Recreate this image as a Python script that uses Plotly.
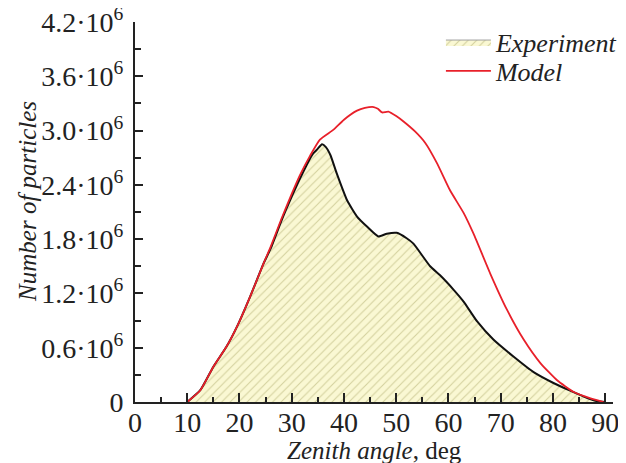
import plotly.graph_objects as go

exp_x = [10, 12.5, 15, 17.5, 19.5, 22, 24.6, 26, 28, 30, 32, 34, 35, 35.8, 36.5, 37.4, 38.6,
         40.6, 42.5, 44.4, 46.6, 48.2, 50.1, 52, 53.3, 56.5, 58.4, 61, 62.9, 65.5, 68.6,
         72.5, 76.3, 80.1, 83.3, 85.9, 88.4, 90]
exp_y = [0, 0.13, 0.39, 0.61, 0.83, 1.16, 1.53, 1.70, 2.0, 2.27, 2.52, 2.74, 2.80, 2.85,
         2.82, 2.73, 2.53, 2.23, 2.05, 1.94, 1.83, 1.86, 1.87, 1.81, 1.75, 1.50, 1.40,
         1.24, 1.11, 0.89, 0.69, 0.50, 0.33, 0.21, 0.125, 0.06, 0.01, 0]
mod_x = [10, 12.5, 15, 17.5, 19.5, 22, 24.6, 26, 28, 30, 31.6, 33.5, 35.4, 38, 40, 42.5,
         44, 45.7, 46.5, 47.3, 48.5, 50, 51.4, 53.6, 55.6, 57.8, 60.3, 62.9, 64.8, 68,
         71.2, 74.4, 77.6, 80.8, 84, 87.2, 89.7]
mod_y = [0, 0.13, 0.39, 0.61, 0.83, 1.16, 1.53, 1.72, 2.02, 2.30, 2.51, 2.72, 2.90, 3.01,
         3.12, 3.22, 3.25, 3.26, 3.24, 3.20, 3.21, 3.16, 3.10, 2.99, 2.86, 2.64, 2.34,
         2.09, 1.86, 1.42, 1.02, 0.69, 0.43, 0.24, 0.11, 0.04, 0]

x_ticks = [0, 10, 20, 30, 40, 50, 60, 70, 80, 90]
y_ticks = [0, 0.6, 1.2, 1.8, 2.4, 3.0, 3.6, 4.2]
y_text = ["0"] + [f"{v:.1f}·10<sup>6</sup>" for v in y_ticks[1:]]
x_title = "<i>Zenith angle</i>, deg"
y_title = "<i>Number of particles</i>"

scale = 1e6
ey = [v * scale for v in exp_y]
my = [v * scale for v in mod_y]
yt = [v * scale for v in y_ticks]

pattern = dict(shape="/", fgcolor="#d4d19e", bgcolor="#faf8d3", size=6, solidity=0.18)
legfont = dict(family="Liberation Serif", size=26, color="#222222")

fig = go.Figure()
fig.add_trace(go.Scatter(
    x=exp_x, y=ey, mode="lines", showlegend=False,
    fill="tozeroy", line=dict(color="#111111", width=2, shape="spline", smoothing=0.5),
    fillpattern=pattern, fillcolor="#faf8d3",
))
fig.add_trace(go.Scatter(
    x=[None], y=[None], mode="lines", name="<i>Experiment</i>", legend="legend",
    fill="toself", line=dict(color="#a0a0a0", width=1),
    fillpattern=pattern, fillcolor="#faf8d3",
))
fig.add_trace(go.Scatter(
    x=mod_x, y=my, mode="lines", name="<i>Model</i>", legend="legend2",
    line=dict(color="#e8202a", width=1.8, shape="spline", smoothing=0.5),
))

tickfont = dict(family="Liberation Serif", size=28, color="#222222")
titlefont = dict(family="Liberation Serif", size=25, color="#222222")
# page body has an 8px default margin, so the figure is sized to fill the rest of the window
fig.update_layout(
    template="none",
    width=618, height=455,
    margin=dict(l=127, r=13, t=14, b=61, pad=0, autoexpand=False),
    paper_bgcolor="white", plot_bgcolor="white",
    font=dict(family="Liberation Serif", size=22, color="#222222"),
    showlegend=True,
    legend=dict(x=0.64, y=0.947, xanchor="left", yanchor="middle",
                bgcolor="rgba(0,0,0,0)", borderwidth=0, font=legfont, itemwidth=45),
    legend2=dict(x=0.64, y=0.871, xanchor="left", yanchor="middle",
                 bgcolor="rgba(0,0,0,0)", borderwidth=0, font=legfont, itemwidth=45),
    xaxis=dict(
        range=[0, 91.5], tickvals=x_ticks, showgrid=False, zeroline=False, automargin=False,
        showline=True, linecolor="#222", linewidth=2, tickfont=tickfont,
        ticks="inside", ticklen=9, tickwidth=1.5, tickcolor="#222", ticklabelstandoff=-6,
        ticklabeloverflow="allow",
        minor=dict(dtick=5, tick0=0, ticks="inside", ticklen=5, tickwidth=1.5, tickcolor="#222"),
    ),
    yaxis=dict(
        range=[0, 4.2e6], tickvals=yt, ticktext=y_text, showgrid=False, zeroline=False,
        automargin=False, ticklabeloverflow="allow",
        showline=True, linecolor="#222", linewidth=2, tickfont=tickfont,
        ticks="inside", ticklen=8, tickwidth=1.5, tickcolor="#222", ticklabelstandoff=4,
        minor=dict(dtick=0.3e6, tick0=0, ticks="inside", ticklen=6, tickwidth=1.5, tickcolor="#222"),
    ),
    annotations=[
        dict(text=x_title, xref="paper", yref="paper", x=0.5, y=-0.127,
             xanchor="center", yanchor="middle", showarrow=False, font=titlefont),
        dict(text=y_title, xref="paper", yref="paper", x=-0.224, y=0.529, textangle=-90,
             xanchor="center", yanchor="middle", showarrow=False, font=titlefont),
    ],
)
fig.write_html("out.html")
